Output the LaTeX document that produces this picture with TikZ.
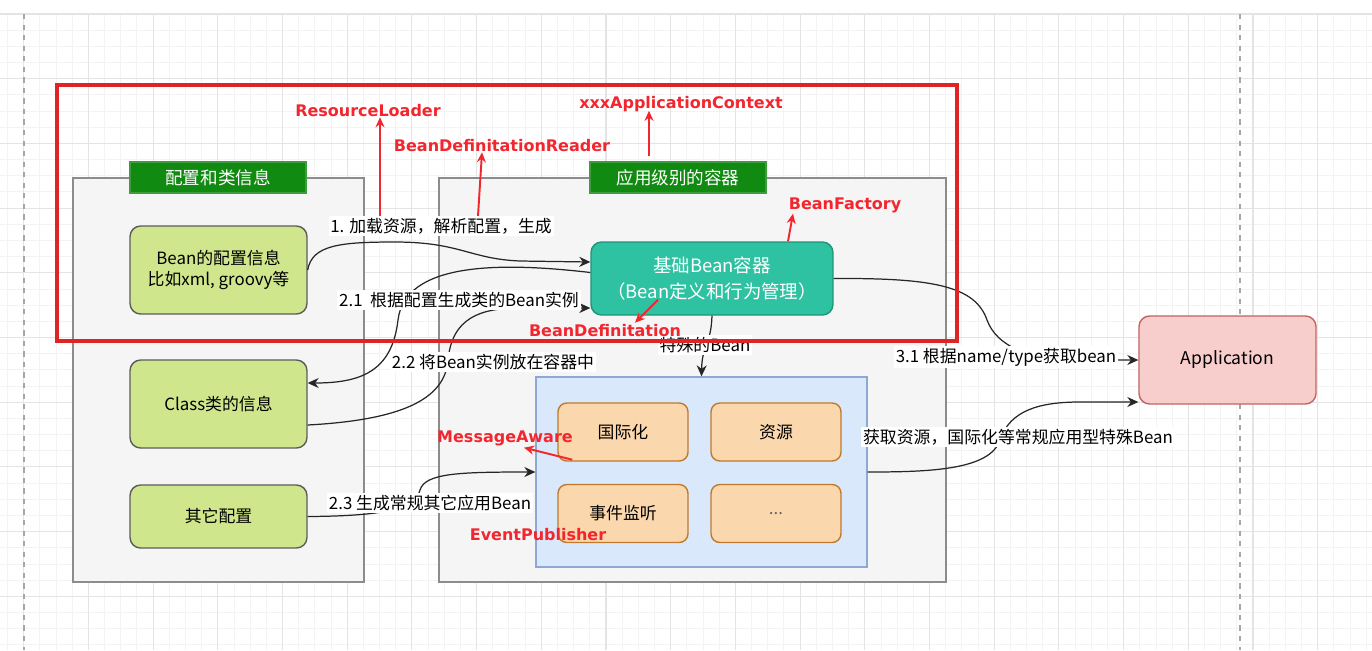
\documentclass[tikz,border=0pt]{standalone}
\usepackage{fontspec}
\setmainfont{Noto Sans CJK SC}
\newfontfamily\tagfont{DejaVu Sans}
\usepackage{tikz}
\usetikzlibrary{arrows.meta,calc}
\definecolor{gridmin}{HTML}{F3F3F3}
\definecolor{gridmaj}{HTML}{E4E4E4}
\definecolor{pnlfill}{HTML}{F5F5F5}
\definecolor{pnlline}{HTML}{8C8C8C}
\definecolor{ttlgreen}{HTML}{108A10}
\definecolor{ttlline}{HTML}{3E9C3E}
\definecolor{cfgfill}{HTML}{CFE68C}
\definecolor{cfgline}{HTML}{5C5C5C}
\definecolor{corefill}{HTML}{2EC2A2}
\definecolor{coreline}{HTML}{1E9478}
\definecolor{extfill}{HTML}{DAE8FC}
\definecolor{extline}{HTML}{8CA9D3}
\definecolor{modfill}{HTML}{FAD7AC}
\definecolor{modline}{HTML}{C07A2A}
\definecolor{appfill}{HTML}{F8CECC}
\definecolor{appline}{HTML}{C06560}
\definecolor{redframe}{HTML}{DE2424}
\definecolor{tagred}{HTML}{F2262E}
\tikzset{
  pnl/.style={draw=pnlline,fill=pnlfill,line width=1pt,inner sep=0pt},
  ttl/.style={draw=ttlline,fill=ttlgreen,text=white,line width=0.6pt,minimum width=3.52cm,minimum height=0.62cm,
              inner sep=0pt,font=\fontsize{10}{12}\selectfont},
  cfg/.style={draw=cfgline,fill=cfgfill,rounded corners=6pt,line width=0.8pt,minimum width=3.54cm,minimum height=1.76cm,
              align=center,inner sep=0pt,font=\fontsize{9.6}{12}\selectfont},
  core/.style={draw=coreline,fill=corefill,text=white,rounded corners=6pt,line width=0.8pt,minimum width=4.84cm,
               minimum height=1.46cm,align=center,inner sep=0pt,font=\fontsize{10.5}{15}\selectfont},
  ext/.style={draw=extline,fill=extfill,line width=0.8pt,minimum width=6.62cm,minimum height=3.8cm,inner sep=0pt},
  mod/.style={draw=modline,fill=modfill,rounded corners=5pt,line width=0.8pt,minimum width=2.6cm,minimum height=1.16cm,
              inner sep=0pt,font=\fontsize{9.6}{12}\selectfont},
  appbox/.style={draw=appline,fill=appfill,rounded corners=6pt,line width=0.8pt,minimum width=3.54cm,minimum height=1.76cm,
                 inner sep=0pt,font=\fontsize{10}{12}\selectfont},
  conn/.style={-{Stealth[length=2.2mm,width=2mm]},line width=0.7pt,black!85},
  lbl/.style={fill=white,inner sep=1pt,font=\fontsize{9.6}{11}\selectfont},
  tag/.style={text=tagred,inner sep=1pt,font=\tagfont\bfseries\fontsize{9.1}{11}\selectfont},
  tagarr/.style={-{Stealth[length=2mm,width=1.8mm]},line width=1.1pt,tagred},
}
\begin{document}
\begin{tikzpicture}[x=0.02cm,y=-0.02cm]
\useasboundingbox (0,0) rectangle (1372,650);
\fill[white] (0,0) rectangle (1372,650);
% background grid
\foreach \k in {0,...,84}{\draw[gridmin,line width=0.5pt] ({7.5+16.175*\k},14) -- ++(0,636);}
\foreach \k in {0,...,39}{\draw[gridmin,line width=0.5pt] (0,{14+16.175*\k}) -- ++(1372,0);}
\foreach \k in {0,...,20}{\draw[gridmaj,line width=0.6pt] ({23.7+64.7*\k},14) -- ++(0,636);}
\foreach \k in {0,...,9}{\draw[gridmaj,line width=0.6pt] (0,{14+64.7*\k}) -- ++(1372,0);}
\draw[gray!70,dashed,line width=0.6pt] (24,14) -- (24,650);
\draw[gray!70,dashed,line width=0.6pt] (1240,14) -- (1240,650);

% containers
\node[pnl,minimum width=5.82cm,minimum height=8.08cm] (pL) at (218.5,380) {};
\node[pnl,minimum width=10.14cm,minimum height=8.08cm] (pR) at (692.5,380) {};
\node[ttl] (tL) at (218,177.5) {配置和类信息};
\node[ttl] (tR) at (678,177.5) {应用级别的容器};

\node[cfg] (cBean) at (218.5,270) {Bean的配置信息\\比如xml, groovy等};
\node[cfg] (cClass) at (218.5,404) {Class类的信息};
\node[cfg,minimum height=1.26cm] (cOther) at (218.5,516.5) {其它配置};

\node[core] (core) at (712,278.5) {基础Bean容器\\（Bean定义和行为管理）};
\node[ext] (ext) at (701.5,472) {};
\node[mod] (mI18n) at (623,432) {国际化};
\node[mod] (mRes) at (776,432) {资源};
\node[mod] (mEvt) at (623,513.5) {事件监听};
\node[mod] (mMore) at (776,513.5) {\textcolor{black!60}{...}};
\node[appbox] (app) at (1227.5,360) {Application};

% connectors
\draw[conn] (cBean.east) .. controls (312,245) and (340,242) .. (395,242) .. controls (460,242) and (470,259) .. (520,261) -- ($(core.west)+(0,-16.5)$);
\draw[conn] ($(core.west)+(0,-6)$) .. controls (500,262) and (405,262) .. (398,320) .. controls (392,372) and (360,383) .. ($(cClass.east)+(0,-21)$);
\draw[conn] ($(cClass.east)+(0,21)$) .. controls (400,420) and (445,400) .. (448,360) .. controls (452,318) and (480,308) .. (520,308) -- ($(core.west)+(0,29.5)$);
\draw[conn] (cOther.east) .. controls (380,516) and (415,510) .. (420,490) .. controls (425,473) and (460,472) .. (ext.west);
\draw[conn] (core.south) .. controls (711,345) and (702,345) .. (ext.north);
\draw[conn] (core.east) .. controls (930,278) and (975,285) .. (987,320) .. controls (997,347) and (1030,360) .. (1080,360) -- (app.west);
\draw[conn] (ext.east) .. controls (930,472) and (990,470) .. (1000,440) .. controls (1010,410) and (1040,402) .. (1080,402) -- ($(app.west)+(0,42)$);

\node[lbl] (l1) at (441,226) {1. 加载资源，解析配置，生成};
\node[lbl] (l21) at (459,300) {2.1\ \ 根据配置生成类的Bean实例};
\node[lbl] (l22) at (493,362) {2.2 将Bean实例放在容器中};
\node[lbl] (l23) at (430,503) {2.3 生成常规其它应用Bean};
\node[lbl] (lsp) at (705,345) {特殊的Bean};
\node[lbl] (l31) at (1006,357) {3.1 根据name/type获取bean};
\node[lbl] (lres) at (1018,437) {获取资源，国际化等常规应用型特殊Bean};

% red markup
\draw[redframe,line width=2.3pt] (57,85) rectangle (957,341);
\node[tag] (tRL) at (368,111) {ResourceLoader};
\node[tag] (tBDR) at (502,146) {BeanDefinitationReader};
\node[tag] (tAC) at (681,104) {xxxApplicationContext};
\node[tag] (tBF) at (845,205) {BeanFactory};
\node[tag] (tBD) at (605,331) {BeanDefinitation};
\node[tag] (tMA) at (505,438) {MessageAware};
\node[tag] (tEP) at (538,535) {EventPublisher};
\draw[tagarr] ($(l1.north)+(-61,0)$) -- ($(tRL.south)+(12,-2)$);
\draw[tagarr] ($(l1.north)+(37,0)$) -- ($(tBDR.south)+(-20,-2)$);
\draw[tagarr] ($(tR.north)+(-29,-5)$) -- ($(tAC.south)+(-32,-3)$);
\draw[tagarr] ($(core.north)+(76,0)$) -- ($(tBF.south)+(-52,-1)$);
\draw[tagarr] ($(core.south)+(-54,-16)$) -- ($(tBD.north)+(30,0)$);
\draw[tagarr] ($(mI18n.south west)+(15,-2)$) -- ($(tMA.south)+(19,0)$);
\end{tikzpicture}
\end{document}
